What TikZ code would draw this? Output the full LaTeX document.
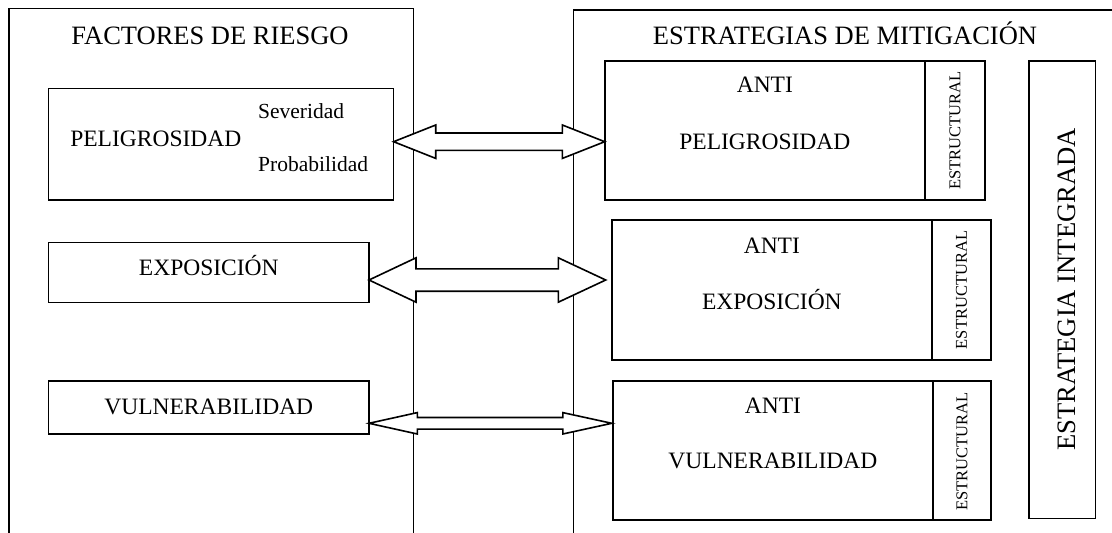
\documentclass[tikz,border=0pt]{standalone}
\usepackage{fontspec}
\setmainfont{Liberation Serif}
\usetikzlibrary{calc}
\tikzset{
  frame/.style={line width=1.6pt},
  box/.style={draw, line width=1.6pt, inner sep=0pt, outer sep=0pt, anchor=north west},
  title/.style={anchor=base, inner sep=0pt, font=\fontsize{26.5}{30}\selectfont},
  lbl/.style={anchor=base, inner sep=0pt, font=\fontsize{23.5}{28}\selectfont},
  small/.style={anchor=base west, inner sep=0pt, font=\fontsize{21.5}{25}\selectfont},
  vert/.style={rotate=90, inner sep=0pt, font=\fontsize{16.5}{20}\selectfont},
  bigvert/.style={rotate=90, inner sep=0pt, font=\fontsize{26.6}{30}\selectfont},
  blockarrow/.style={draw, fill=white, line width=1.6pt, line join=miter},
}
\newcommand{\dblarr}[6]{%
  \draw[blockarrow] (#1) -- ($(#1)+(#3,-#5)$) -- ($(#1)+(#3,-#6)$) -- ($(#2)+(-#4,-#6)$) -- ($(#2)+(-#4,-#5)$) -- (#2) -- ($(#2)+(-#4,#5)$) -- ($(#2)+(-#4,#6)$) -- ($(#1)+(#3,#6)$) -- ($(#1)+(#3,#5)$) -- cycle;}
\begin{document}
\begin{tikzpicture}[x=1pt,y=-1pt]
\useasboundingbox (0,0) rectangle (1112,533);
\clip (0,0) rectangle (1112,533);
% frames
\draw[frame] (9,534) -- (9,8.3) -- (413.6,8.3) -- (413.6,534);
\draw[frame] (573.4,534) -- (573.4,10) -- (1113,10);
\node[title] (t1) at (210,44.3) {FACTORES DE RIESGO};
\node[title] (t2) at (845,44.3) {ESTRATEGIAS DE MITIGACIÓN};
% left boxes
\node[box, minimum width=345pt, minimum height=111.7pt] (pl) at (48.6,88.3) {};
\node[box, minimum width=320.4pt, minimum height=60pt] (ex) at (48.6,242.3) {};
\node[box, minimum width=320.4pt, minimum height=53.3pt] (vu) at (48.6,380.7) {};
\node[lbl] (plt) at (155.8,146) {PELIGROSIDAD};
\node[small] (sev) at (258,118.3) {Severidad};
\node[small] (pro) at (258,171) {Probabilidad};
\node[lbl] (ext) at (208.8,275) {EXPOSICIÓN};
\node[lbl] (vut) at (208.8,414) {VULNERABILIDAD};
% right boxes
\node[box, minimum width=320.3pt, minimum height=139.3pt] (r1) at (604.7,60.7) {};
\node[box, minimum width=60.2pt, minimum height=139.3pt] (s1) at (925,60.7) {};
\node[box, minimum width=320.3pt, minimum height=140pt] (r2) at (611.7,220) {};
\node[box, minimum width=59.2pt, minimum height=140pt] (s2) at (932,220) {};
\node[box, minimum width=320.2pt, minimum height=139.3pt] (r3) at (612.8,380.7) {};
\node[box, minimum width=58.2pt, minimum height=139.3pt] (s3) at (933,380.7) {};
\node[box, minimum width=66.5pt, minimum height=457.7pt] (ei) at (1029,60.7) {};
\node[lbl] (r1a) at ($(r1.north)!0!(r1.south) + (0,32)$) {ANTI};
\node[lbl] (r1b) at ($(r1.north) + (0,88.3)$) {PELIGROSIDAD};
\node[lbl] (r2a) at ($(r2.north) + (0,33.3)$) {ANTI};
\node[lbl] (r2b) at ($(r2.north) + (0,89)$) {EXPOSICIÓN};
\node[lbl] (r3a) at ($(r3.north) + (0,32.6)$) {ANTI};
\node[lbl] (r3b) at ($(r3.north) + (0,87.6)$) {VULNERABILIDAD};
\node[vert] (s1t) at (s1.center) {ESTRUCTURAL};
\node[vert] (s2t) at (s2.center) {ESTRUCTURAL};
\node[vert] (s3t) at ($(s3.center)+(0,1)$) {ESTRUCTURAL};
\node[bigvert] (eit) at ($(ei.center)+(5,0)$) {ESTRATEGIA INTEGRADA};
% arrows
\coordinate (y1) at (0,141.7);
\coordinate (y2) at (0,280);
\coordinate (y3) at (0,423.3);
\coordinate (a1l) at (pl.east |- y1);
\coordinate (a1r) at (r1.west |- y1);
\coordinate (a2l) at (ex.east |- y2);
\coordinate (a2r) at ($(r2.west |- y2)+(-6,0)$);
\coordinate (a3l) at (vu.east |- y3);
\coordinate (a3r) at ($(r3.west |- y3)+(-1,0)$);
\dblarr{a1l}{a1r}{42.1}{42.3}{16.7}{8.7}
\dblarr{a2l}{a2r}{47}{47.4}{22.2}{11.2}
\dblarr{a3l}{a3r}{48.3}{49}{10.7}{5.8}
\end{tikzpicture}
\end{document}
